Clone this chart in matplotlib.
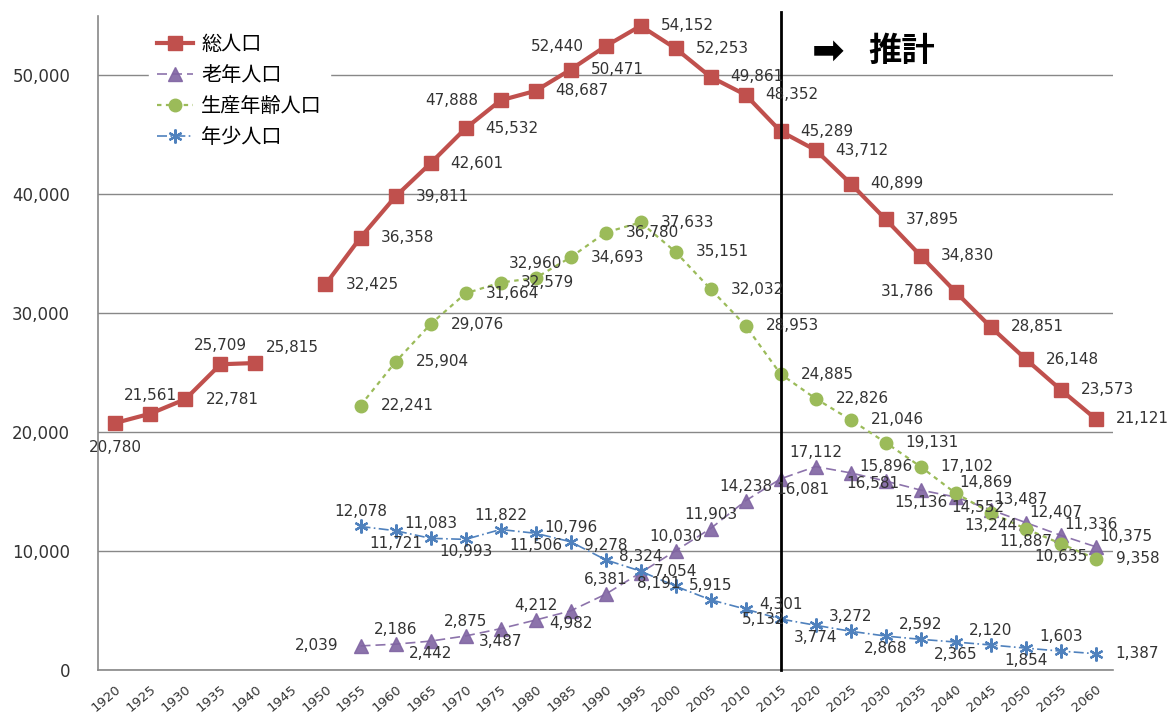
import numpy as np
import matplotlib
matplotlib.use('Agg')
import matplotlib.pyplot as plt
from matplotlib.ticker import FuncFormatter

plt.rcParams['font.family'] = ['DejaVu Sans', 'Noto Sans CJK JP']

# Daten
years = [str(y) for y in range(1920, 2061, 5)]
nan = np.nan
total = [20780, 21561, 22781, 25709, 25815, nan, 32425, 36358, 39811, 42601,
         45532, 47888, 48687, 50471, 52440, 54152, 52253, 49861, 48352, 45289,
         43712, 40899, 37895, 34830, 31786, 28851, 26148, 23573, 21121]
elderly = [nan] * 7 + [2039, 2186, 2442, 2875, 3487, 4212, 4982, 6381, 8191,
                       10030, 11903, 14238, 16081, 17112, 16581, 15896, 15136,
                       14552, 13487, 12407, 11336, 10375]
working = [nan] * 7 + [22241, 25904, 29076, 31664, 32579, 32960, 34693, 36780,
                       37633, 35151, 32032, 28953, 24885, 22826, 21046, 19131,
                       17102, 14869, 13244, 11887, 10635, 9358]
youth = [nan] * 7 + [12078, 11721, 11083, 10993, 11822, 11506, 10796, 9278,
                     8324, 7054, 5915, 5132, 4301, 3774, 3272, 2868, 2592,
                     2365, 2120, 1854, 1603, 1387]
names = ['総人口', '老年人口', '生産年齢人口', '年少人口']

# Lage der Beschriftungen
pos_total = ['b2', 'a2', 'r', 'a2', 'ar2', None, 'r', 'r', 'r', 'r', 'r', 'l', 'r', 'r',
             'l', 'r', 'r', 'r', 'r', 'r', 'r', 'r', 'r', 'r', 'l', 'r', 'r', 'r', 'r']
pos_elderly = [None] * 7 + ['l', 'a', 'b', 'a', 'b', 'a', 'b', 'a', 'br', 'a', 'a', 'a',
                            'br', 'a', 'br', 'a', 'b', 'br', 'ar', 'ar', 'ar', 'ar']
pos_working = [None] * 7 + ['r', 'r', 'r', 'r', 'r', 'a', 'r', 'r', 'r', 'r', 'r', 'r',
                            'r', 'r', 'r', 'r', 'r', 'ar', 'b', 'b', 'b', 'r']
pos_youth = [None] * 7 + ['a', 'b', 'a', 'b', 'a', 'b', 'a', 'a', 'a', 'a', 'a', 'br',
                          'a', 'b', 'a', 'b', 'a', 'b', 'a', 'b', 'a', 'r']

offsets = {
    'r': (20, 0, 'left', 'center'),
    'l': (-22, 0, 'right', 'center'),
    'a': (0, 7, 'center', 'bottom'),
    'b': (0, -5, 'center', 'top'),
    'a2': (0, 11, 'center', 'bottom'),
    'b2': (0, -17, 'center', 'top'),
    'ar': (4, 3, 'left', 'bottom'),
    'ar2': (10, 8, 'left', 'bottom'),
    'br': (-4, -3, 'left', 'top'),
}

fig = plt.figure(figsize=(11.73, 7.16), dpi=100)
ax = fig.add_axes([0.0835, 0.064, 0.8655, 0.914])
x = np.arange(len(years))

ax.plot(x, total, color='#C0504D', lw=3, marker='s', ms=9.5, label=names[0], zorder=4)
ax.plot(x, elderly, color='#8064A2', lw=1.2, ls=(0, (6, 3)), marker='^', ms=10,
        label=names[1], zorder=3, alpha=0.9)
ax.plot(x, working, color='#9BBB59', lw=1.6, ls=(0, (2, 2)), marker='o', ms=9,
        label=names[2], zorder=3)
ax.plot(x, youth, color='#4F81BD', lw=1.2, ls=(0, (6, 2, 1, 2)), marker=(6, 2, 0), ms=10,
        mew=1.6, label=names[3], zorder=3)

for vals, pos in [(total, pos_total), (elderly, pos_elderly),
                  (working, pos_working), (youth, pos_youth)]:
    for i, (v, p) in enumerate(zip(vals, pos)):
        if p is None or np.isnan(v):
            continue
        dx, dy, ha, va = offsets[p]
        ax.annotate(f'{int(v):,}', (i, v), xytext=(dx, dy), textcoords='offset pixels',
                    ha=ha, va=va, fontsize=11, color='#333333', zorder=6)

# Trennlinie Prognose
ax.axvline(19, ymin=0, ymax=1.005, color='black', lw=2, clip_on=False, zorder=5)
ax.text(19.9, 52000, '➡', fontsize=28, fontweight='bold', ha='left', va='center')
ax.text(21.5, 52000, '推計', fontsize=24, fontweight='bold', ha='left', va='center',
        family=['Noto Sans CJK JP', 'DejaVu Sans'])

ax.set_xlim(-0.5, len(years) - 0.5)
ax.set_ylim(0, 55000)
ax.set_yticks(range(0, 50001, 10000))
ax.yaxis.set_major_formatter(FuncFormatter(lambda v, p: f'{int(v):,}'))
ax.set_xticks(x)
ax.set_xticklabels(years, rotation=40, ha='right', rotation_mode='anchor')
ax.tick_params(axis='x', length=0, pad=9, labelsize=9.5, colors='#333333')
ax.tick_params(axis='y', length=0, pad=20, labelsize=12, colors='#333333')
ax.grid(axis='y', color='#888888', lw=1)
ax.set_axisbelow(True)
for s in ['top', 'right']:
    ax.spines[s].set_visible(False)
for s in ['left', 'bottom']:
    ax.spines[s].set_color('#888888')
    ax.spines[s].set_linewidth(1.2)

leg = ax.legend(loc='upper left', bbox_to_anchor=(0.04, 1.0), frameon=True,
                fancybox=False, edgecolor='white', framealpha=1,
                handlelength=1.8, handletextpad=0.4, labelspacing=0.5, borderpad=0.4,
                prop={'family': ['Noto Sans CJK JP', 'DejaVu Sans'], 'size': 14.5})
leg.set_zorder(7)

fig.savefig('out.png', dpi=100)
